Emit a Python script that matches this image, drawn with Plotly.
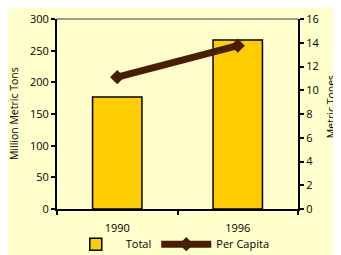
import plotly.graph_objects as go

years = ["1990", "1996"]
total = [177, 267]
per_capita = [11.1, 13.75]
left_ticks = [0, 50, 100, 150, 200, 250, 300]
right_ticks = [0, 2, 4, 6, 8, 10, 12, 14, 16]

BG = "#FFFFCC"
FONT = "Open Sans"

fig = go.Figure()
fig.add_trace(go.Bar(x=years, y=total, name="Total", width=0.41,
                     marker=dict(color="#FFCC00", line=dict(color="black", width=1.5)),
                     yaxis="y"))
fig.add_trace(go.Scatter(x=years, y=per_capita, name="Per Capita", mode="lines+markers",
                         line=dict(color="#4A1E00", width=7),
                         marker=dict(symbol="diamond", size=11, color="#4A1E00"),
                         yaxis="y2"))

tick_common = dict(ticklen=4, tickwidth=2, tickcolor="black", showgrid=False,
                   zeroline=False, automargin=False)

fig.update_layout(
    width=333, height=247,
    margin=dict(l=49, r=43, t=11, b=46, autoexpand=False),
    paper_bgcolor=BG, plot_bgcolor=BG,
    font=dict(family=FONT, size=11, color="black"),
    showlegend=True,
    legend=dict(orientation="h", x=0.47, xanchor="center", y=-0.185, yanchor="middle",
                font=dict(size=11), bgcolor="rgba(0,0,0,0)", itemwidth=50,
                tracegroupgap=0),
    xaxis=dict(showline=True, linecolor="black", linewidth=2, ticks="outside",
               tickson="boundaries", ticklabelstandoff=8, tickfont=dict(size=11),
               **tick_common),
    xaxis2=dict(overlaying="x", range=[-0.5, 1.5], tickvals=[-0.5, 0.5, 1.5],
                ticks="inside", showticklabels=False, showline=False, anchor="y",
                **tick_common),
    yaxis=dict(range=[0, 300], tickvals=left_ticks, showline=True, linecolor="black",
               linewidth=2, ticks="outside", tickfont=dict(size=11), **tick_common),
    yaxis2=dict(range=[0, 16], tickvals=right_ticks, overlaying="y", side="right",
                showline=True, linecolor="black", linewidth=2, ticks="outside",
                tickfont=dict(size=11), **tick_common),
    yaxis3=dict(range=[0, 300], tickvals=left_ticks, overlaying="y", side="left",
                ticks="inside", showticklabels=False, showline=False, **tick_common),
    yaxis4=dict(range=[0, 16], tickvals=right_ticks, overlaying="y", side="right",
                ticks="inside", showticklabels=False, showline=False, **tick_common),
    shapes=[dict(type="line", xref="paper", yref="paper", x0=0, x1=1, y0=1, y1=1,
                 line=dict(color="#999999", width=2))],
    annotations=[
        dict(text="Million Metric Tons", xref="paper", yref="paper", x=-0.178, y=0.5,
             textangle=-90, showarrow=False, font=dict(size=10.5), xanchor="center",
             yanchor="middle"),
        dict(text="Metric Tones", xref="paper", yref="paper", x=1.14, y=0.54,
             textangle=-90, showarrow=False, font=dict(size=10.5), xanchor="center",
             yanchor="middle"),
    ],
)

fig.write_html("out.html",
               post_script="document.documentElement.style.overflow='hidden';"
                           "document.body.style.overflow='hidden';")
